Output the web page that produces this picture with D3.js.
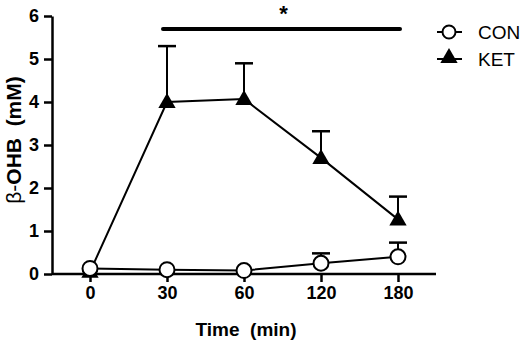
<!DOCTYPE html>
<html>
<head>
<meta charset="utf-8">
<script src="https://cdn.jsdelivr.net/npm/d3@7"></script>
<style>
	body { margin:0; background:#fff; }
	svg { display:block; font-family:"Liberation Sans", Arial, sans-serif; }
	.axis path, .axis line { stroke:#000; stroke-width:2.5; }
	.axis text { font-size:18px; font-weight:bold; fill:#000; font-family:"Liberation Sans", Arial, sans-serif; }
</style>
</head>
<body>
<div id="chart"></div>
<script>
// time points (min)
var times = ["0","30","60","120","180"]
// mean + upper SEM, mM
var conMean = [0.13, 0.10, 0.08, 0.25, 0.40]
var conErr  = [0.00, 0.00, 0.00, 0.23, 0.33]
var ketMean = [0.05, 4.00, 4.07, 2.70, 1.27]
var ketErr  = [0.00, 1.30, 0.83, 0.62, 0.53]
var yTicks = [0,1,2,3,4,5,6]
var sigFrom = "30", sigTo = "180", sigLevel = 5.7

var W = 529, H = 345
var svg = d3.select("#chart").append("svg").attr("width",W).attr("height",H)

var x = d3.scalePoint().domain(times).range([90,398])
var y = d3.scaleLinear().domain([0,6]).range([274,16])

// axes
var xAxis = svg.append("g").attr("class","x axis")
	.attr("transform","translate(0,274)")
	.call(d3.axisBottom(x).tickSize(8).tickSizeOuter(0).tickPadding(4))
xAxis.select(".domain").attr("d","M52,0H436")

svg.append("g").attr("class","y axis")
	.attr("transform","translate(52,0)")
	.call(d3.axisLeft(y).tickValues(yTicks).tickFormat(d3.format("d")).tickSize(8).tickSizeOuter(0).tickPadding(5))

// axis titles
svg.append("text")
	.attr("x",246).attr("y",336)
	.attr("text-anchor","middle")
	.style("font-size","19px").style("font-weight","bold")
	.style("white-space","pre")
	.text("Time  (min)")

svg.append("text")
	.attr("transform","translate(21,140) rotate(-90)")
	.attr("text-anchor","middle")
	.style("font-size","21px")
	.style("white-space","pre")
	.html('β-<tspan font-weight="bold">OHB  (mM)</tspan>')

var line = d3.line().x((d,i)=>x(times[i])).y(d=>y(d))

// error bars (upper only)
function errBars(mean, err){
	var g = svg.append("g")
	mean.forEach((m,i)=>{
		if(!err[i]) return
		var cx = x(times[i])
		g.append("line").attr("x1",cx).attr("x2",cx)
			.attr("y1",y(m)).attr("y2",y(m+err[i]))
			.attr("stroke","#000").attr("stroke-width",2)
		g.append("line").attr("x1",cx-9).attr("x2",cx+9)
			.attr("y1",y(m+err[i])).attr("y2",y(m+err[i]))
			.attr("stroke","#000").attr("stroke-width",2.5)
	})
}
errBars(ketMean, ketErr)
errBars(conMean, conErr)

// KET series
svg.append("path").datum(ketMean).attr("d",line)
	.attr("fill","none").attr("stroke","#000").attr("stroke-width",2)
var tri = d3.symbol().type(d3.symbolTriangle).size(130)
svg.selectAll(".ket").data(ketMean).enter().append("path")
	.attr("class","ket")
	.attr("transform",(d,i)=>`translate(${x(times[i])},${y(d)+1})`)
	.attr("d",tri).attr("fill","#000")

// CON series
svg.append("path").datum(conMean).attr("d",line)
	.attr("fill","none").attr("stroke","#000").attr("stroke-width",2)
svg.selectAll(".con").data(conMean).enter().append("circle")
	.attr("class","con")
	.attr("cx",(d,i)=>x(times[i])).attr("cy",d=>y(d))
	.attr("r",7.5).attr("fill","#fff").attr("stroke","#000").attr("stroke-width",2)

// significance bar
svg.append("line")
	.attr("x1",x(sigFrom)-4).attr("x2",x(sigTo)+2)
	.attr("y1",y(sigLevel)).attr("y2",y(sigLevel))
	.attr("stroke","#000").attr("stroke-width",4).attr("stroke-linecap","round")
svg.append("text")
	.attr("x",(x(sigFrom)+x(sigTo))/2+1).attr("y",y(sigLevel)-8)
	.attr("text-anchor","middle")
	.style("font-size","22px").style("font-weight","bold")
	.text("*")

// legend
var legend = svg.append("g")
legend.append("line").attr("x1",437).attr("x2",462).attr("y1",32).attr("y2",32)
	.attr("stroke","#000").attr("stroke-width",2)
legend.append("circle").attr("cx",449).attr("cy",32).attr("r",6.5)
	.attr("fill","#fff").attr("stroke","#000").attr("stroke-width",2)
legend.append("text").attr("x",478).attr("y",39).style("font-size","19px").text("CON")
legend.append("line").attr("x1",437).attr("x2",462).attr("y1",59).attr("y2",59)
	.attr("stroke","#000").attr("stroke-width",2)
legend.append("path").attr("transform","translate(449,58)").attr("d",tri).attr("fill","#000")
legend.append("text").attr("x",478).attr("y",66).style("font-size","19px").text("KET")
</script>
</body>
</html>
